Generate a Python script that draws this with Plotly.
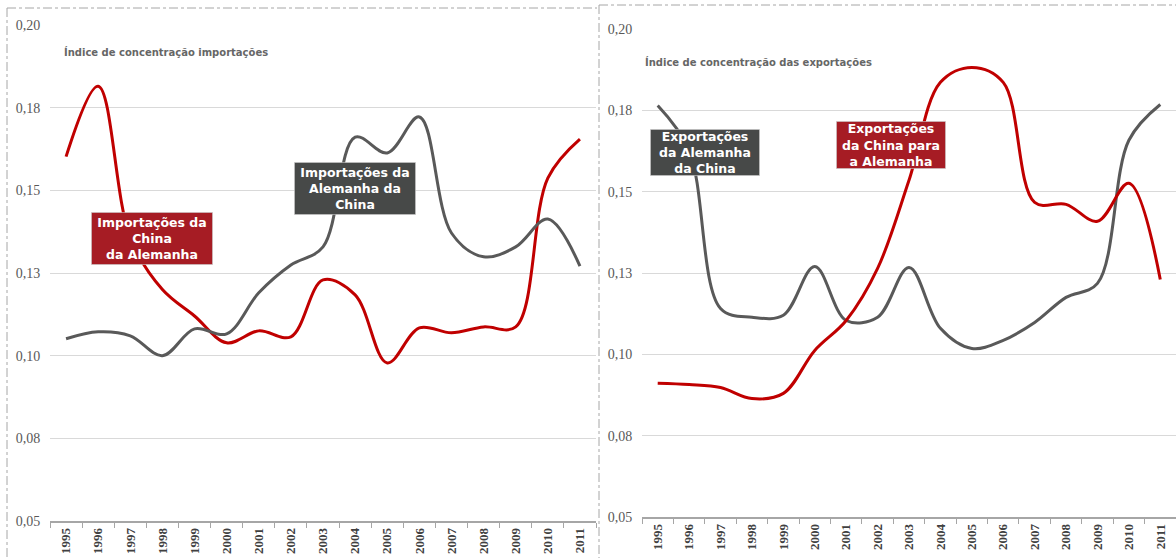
import plotly.graph_objects as go

years = [str(y) for y in range(1995, 2012)]

imp_china_de = [0.1602, 0.1815, 0.1355, 0.1200, 0.1120, 0.1039, 0.1075, 0.1057, 0.1229, 0.1184,
                0.0978, 0.1084, 0.1069, 0.1087, 0.1087, 0.1537, 0.1655]
imp_de_china = [0.1051, 0.1072, 0.1060, 0.1000, 0.1081, 0.1066, 0.1190, 0.1274, 0.1329, 0.1661,
                0.1613, 0.1722, 0.1371, 0.1299, 0.1329, 0.1413, 0.1271]

exp_de_china = [0.1765, 0.1627, 0.1141, 0.1114, 0.1120, 0.1270, 0.1104, 0.1114, 0.1267, 0.1080,
                0.1018, 0.1043, 0.1098, 0.1175, 0.1218, 0.1658, 0.1768]
exp_china_de = [0.0911, 0.0907, 0.0898, 0.0864, 0.0880, 0.1012, 0.1104, 0.1264, 0.1535, 0.1836,
                0.1882, 0.1836, 0.1467, 0.1461, 0.1409, 0.1526, 0.1230]

y_tickvals = [0.05, 0.075, 0.10, 0.125, 0.15, 0.175, 0.20]
y_ticktext = ["0,05", "0,08", "0,10", "0,13", "0,15", "0,18", "0,20"]

RED = "#C00000"
GRAY = "#595959"
RED_BOX = "#A61C24"
GRAY_BOX = "#474948"

fig = go.Figure()
fig.add_trace(go.Scatter(x=years, y=imp_china_de, mode="lines", xaxis="x", yaxis="y",
                         line=dict(color=RED, width=3, shape="spline", smoothing=1.0), showlegend=False))
fig.add_trace(go.Scatter(x=years, y=imp_de_china, mode="lines", xaxis="x", yaxis="y",
                         line=dict(color=GRAY, width=3, shape="spline", smoothing=1.0), showlegend=False))
fig.add_trace(go.Scatter(x=years, y=exp_de_china, mode="lines", xaxis="x2", yaxis="y2",
                         line=dict(color=GRAY, width=3, shape="spline", smoothing=1.0), showlegend=False))
fig.add_trace(go.Scatter(x=years, y=exp_china_de, mode="lines", xaxis="x2", yaxis="y2",
                         line=dict(color=RED, width=3, shape="spline", smoothing=1.0), showlegend=False))

W, H = 1176, 558
ML, MR, MT, MB = 50, 0, 25, 37
PW = W - ML - MR
PH = H - MT - MB

def px(x):
    return (x - ML) / PW

def py(y):
    return (H - MB - y) / PH

xfont = dict(family="Liberation Serif, Times New Roman, serif", size=13, color="#404040",
             weight="bold")
yfont = dict(family="Liberation Serif, Times New Roman, serif", size=14, color="#595959")

common_x = dict(type="category", tickangle=-90, tickfont=xfont, showgrid=False,
                showline=True, linecolor="#A6A6A6", linewidth=1.5, ticks="outside",
                tickson="boundaries", ticklen=5, tickcolor="#A6A6A6", range=[-0.5, 16.5],
                fixedrange=True)
common_y = dict(range=[0.05, 0.20], tickvals=y_tickvals, ticktext=y_ticktext, tickfont=yfont,
                showgrid=True, gridcolor="#D9D9D9", gridwidth=1, showline=False, zeroline=False,
                ticks="outside", ticklen=6, tickcolor="rgba(0,0,0,0)", fixedrange=True)

fig.update_layout(
    width=W, height=H,
    margin=dict(l=ML, r=MR, t=MT, b=MB),
    paper_bgcolor="white", plot_bgcolor="white",
    xaxis=dict(domain=[0, px(596)], anchor="y", **common_x),
    yaxis=dict(domain=[0, 1], anchor="x", **common_y),
    xaxis2=dict(domain=[px(642), 1], anchor="y2", **common_x),
    yaxis2=dict(domain=[py(517), py(29)], anchor="x2", **common_y),
)

title_font = dict(family="DejaVu Sans, Verdana, sans-serif", size=10, color="#666666")
box_font = dict(family="DejaVu Sans, Verdana, sans-serif", size=12.5, color="white")

annotations = [
    dict(text="<b>Índice de concentração importações</b>", x=px(62), y=py(52), xanchor="left",
         yanchor="middle", font=title_font),
    dict(text="<b>Índice de concentração das exportações</b>", x=px(643), y=py(62), xanchor="left",
         yanchor="middle", font=title_font),
    dict(text="<b>Importações da<br>China<br>da Alemanha</b>", x=px(152), y=py(238.5),
         bgcolor=RED_BOX, width=118, height=49),
    dict(text="<b>Importações da<br>Alemanha da<br>China</b>", x=px(355), y=py(188.5),
         bgcolor=GRAY_BOX, width=118, height=49),
    dict(text="<b>Exportações<br>da Alemanha<br>da China</b>", x=px(705), y=py(152.5),
         bgcolor=GRAY_BOX, width=106, height=43),
    dict(text="<b>Exportações<br>da China para<br>a Alemanha</b>", x=px(891), y=py(145),
         bgcolor=RED_BOX, width=106, height=44),
]
for a in annotations:
    a.setdefault("xref", "paper")
    a.setdefault("yref", "paper")
    a.setdefault("showarrow", False)
    if "bgcolor" in a:
        a.update(font=box_font, align="center", xanchor="center", yanchor="middle",
                 bordercolor="rgba(200,200,200,0.6)", borderwidth=1, borderpad=1)
fig.update_layout(annotations=annotations)

dash = dict(color="#A6A6A6", width=1, dash="dashdot")
fig.update_layout(shapes=[
    dict(type="line", xref="paper", yref="paper", x0=px(7), x1=px(597), y0=py(8), y1=py(8), line=dash),
    dict(type="line", xref="paper", yref="paper", x0=px(7), x1=px(7), y0=py(8), y1=py(560), line=dash),
    dict(type="line", xref="paper", yref="paper", x0=px(599), x1=px(1176), y0=py(5), y1=py(5), line=dash),
    dict(type="line", xref="paper", yref="paper", x0=px(599), x1=px(599), y0=py(5), y1=py(560), line=dash),
])

fig.write_html("out.html", config={"displayModeBar": False},
               post_script="document.body.style.margin='0';document.body.style.overflow='hidden';")
